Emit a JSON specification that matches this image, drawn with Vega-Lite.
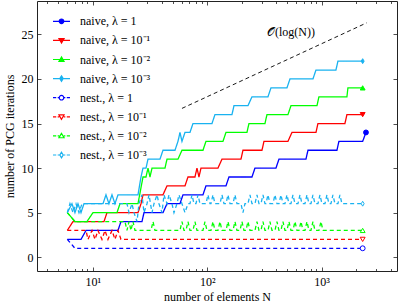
{
  "$schema": "https://vega.github.io/schema/vega-lite/v6.json",
  "width": 360,
  "height": 270,
  "autosize": {"type": "none"},
  "padding": {"left": 37, "top": 1, "right": 1, "bottom": 35},
  "background": "white",
  "config": {"view": {"stroke": "#222", "strokeWidth": 1}, "font": "Liberation Serif"},
  "datasets": {
    "lines": [
      {"s":"A1","n":6,"v":2},{"s":"A1","n":7.90,"v":2},{"s":"A1","n":8.74,"v":3},{"s":"A1","n":16.63,"v":3},{"s":"A1","n":17.66,"v":4},{"s":"A1","n":26.95,"v":4},{"s":"A1","n":28.06,"v":5},{"s":"A1","n":41.11,"v":5},{"s":"A1","n":44.56,"v":6},{"s":"A1","n":57.86,"v":6},{"s":"A1","n":61.46,"v":7},{"s":"A1","n":91.88,"v":7},{"s":"A1","n":97.59,"v":8},{"s":"A1","n":145.92,"v":8},{"s":"A1","n":154.99,"v":9},{"s":"A1","n":246.16,"v":9},{"s":"A1","n":261.46,"v":10},{"s":"A1","n":398.79,"v":10},{"s":"A1","n":423.58,"v":11},{"s":"A1","n":729.1,"v":11},{"s":"A1","n":759.0,"v":12},{"s":"A1","n":1359.4,"v":12},{"s":"A1","n":1415.1,"v":13},{"s":"A1","n":2281,"v":13},{"s":"A1","n":2438,"v":14},
      {"s":"A2","n":6,"v":3},{"s":"A2","n":6.73,"v":4},{"s":"A2","n":12.55,"v":4},{"s":"A2","n":13.33,"v":5},{"s":"A2","n":24.87,"v":5},{"s":"A2","n":26.42,"v":6},{"s":"A2","n":27.50,"v":7},{"s":"A2","n":41.11,"v":7},{"s":"A2","n":44.56,"v":8},{"s":"A2","n":63.98,"v":8},{"s":"A2","n":67.96,"v":9},{"s":"A2","n":78.22,"v":9},{"s":"A2","n":81.43,"v":10},{"s":"A2","n":84.77,"v":9},{"s":"A2","n":88.26,"v":10},{"s":"A2","n":124.22,"v":10},{"s":"A2","n":134.64,"v":11},{"s":"A2","n":197.26,"v":11},{"s":"A2","n":205.35,"v":12},{"s":"A2","n":300.97,"v":12},{"s":"A2","n":313.32,"v":13},{"s":"A2","n":507.58,"v":13},{"s":"A2","n":550.3,"v":14},{"s":"A2","n":891.4,"v":14},{"s":"A2","n":928.0,"v":15},{"s":"A2","n":1596.4,"v":15},{"s":"A2","n":1661.9,"v":16},{"s":"A2","n":2281,"v":16},
      {"s":"A3","n":6,"v":5},{"s":"A3","n":7.00,"v":4},{"s":"A3","n":8.91,"v":4},{"s":"A3","n":10.06,"v":5},{"s":"A3","n":16.30,"v":5},{"s":"A3","n":17.31,"v":6},{"s":"A3","n":24.87,"v":6},{"s":"A3","n":27.50,"v":9},{"s":"A3","n":29.21,"v":9},{"s":"A3","n":30.41,"v":10},{"s":"A3","n":31.66,"v":9},{"s":"A3","n":32.96,"v":10},{"s":"A3","n":42.80,"v":10},{"s":"A3","n":44.56,"v":11},{"s":"A3","n":55.58,"v":11},{"s":"A3","n":60.24,"v":12},{"s":"A3","n":91.88,"v":12},{"s":"A3","n":97.59,"v":13},{"s":"A3","n":137.38,"v":13},{"s":"A3","n":145.92,"v":14},{"s":"A3","n":222.55,"v":14},{"s":"A3","n":231.68,"v":15},{"s":"A3","n":319.68,"v":15},{"s":"A3","n":332.79,"v":16},{"s":"A3","n":507.58,"v":16},{"s":"A3","n":539.3,"v":17},{"s":"A3","n":909.5,"v":17},{"s":"A3","n":946.8,"v":18},{"s":"A3","n":1661.9,"v":18},{"s":"A3","n":1695.7,"v":19},{"s":"A3","n":2281,"v":19},
      {"s":"A4","n":6,"v":5},{"s":"A4","n":6.59,"v":6},{"s":"A4","n":7.00,"v":5},{"s":"A4","n":7.44,"v":6},{"s":"A4","n":7.90,"v":5},{"s":"A4","n":8.39,"v":6},{"s":"A4","n":12.30,"v":6},{"s":"A4","n":13.06,"v":7},{"s":"A4","n":13.87,"v":6},{"s":"A4","n":14.74,"v":7},{"s":"A4","n":15.65,"v":6},{"s":"A4","n":16.63,"v":7},{"s":"A4","n":24.87,"v":7},{"s":"A4","n":26.42,"v":9},{"s":"A4","n":27.50,"v":10},{"s":"A4","n":29.21,"v":10},{"s":"A4","n":30.41,"v":11},{"s":"A4","n":38.71,"v":11},{"s":"A4","n":41.11,"v":12},{"s":"A4","n":52.33,"v":12},{"s":"A4","n":55.58,"v":13},{"s":"A4","n":57.86,"v":14},{"s":"A4","n":60.24,"v":13},{"s":"A4","n":63.98,"v":14},{"s":"A4","n":70.75,"v":14},{"s":"A4","n":75.14,"v":15},{"s":"A4","n":110.10,"v":15},{"s":"A4","n":116.95,"v":16},{"s":"A4","n":164.62,"v":16},{"s":"A4","n":171.37,"v":17},{"s":"A4","n":227.07,"v":17},{"s":"A4","n":246.16,"v":18},{"s":"A4","n":339.55,"v":18},{"s":"A4","n":360.66,"v":19},{"s":"A4","n":497.48,"v":19},{"s":"A4","n":528.6,"v":20},{"s":"A4","n":839.3,"v":20},{"s":"A4","n":891.4,"v":21},{"s":"A4","n":1332.3,"v":21},{"s":"A4","n":1387.0,"v":22},{"s":"A4","n":2281,"v":22},
      {"s":"B1","n":6,"v":2},{"s":"B1","n":7.00,"v":1},{"s":"B1","n":2281,"v":1},
      {"s":"B2","n":6,"v":3},{"s":"B2","n":8.74,"v":3},{"s":"B2","n":9.10,"v":2},{"s":"B2","n":9.86,"v":3},{"s":"B2","n":10.47,"v":2},{"s":"B2","n":11.12,"v":3},{"s":"B2","n":12.05,"v":2},{"s":"B2","n":12.80,"v":3},{"s":"B2","n":13.60,"v":2},{"s":"B2","n":14.74,"v":3},{"s":"B2","n":15.65,"v":2},{"s":"B2","n":16.63,"v":3},{"s":"B2","n":17.66,"v":2},{"s":"B2","n":2281,"v":2},
      {"s":"B3","n":6,"v":5},{"s":"B3","n":7.00,"v":4},{"s":"B3","n":19.14,"v":4},{"s":"B3","n":19.93,"v":3},{"s":"B3","n":20.75,"v":4},{"s":"B3","n":21.60,"v":3},{"s":"B3","n":22.49,"v":4},{"s":"B3","n":23.41,"v":3},
      {"s":"B3","n":32.30,"v":3},{"s":"B3","n":33.63,"v":4},{"s":"B3","n":35.01,"v":3},
      {"s":"B3","n":57.86,"v":3},{"s":"B3","n":60.24,"v":4},{"s":"B3","n":62.71,"v":3},
      {"s":"B3","n":65.28,"v":3},{"s":"B3","n":67.96,"v":4},{"s":"B3","n":70.75,"v":3},
      {"s":"B3","n":75.14,"v":3},{"s":"B3","n":78.22,"v":4},{"s":"B3","n":81.43,"v":3},
      {"s":"B3","n":91.88,"v":3},{"s":"B3","n":95.65,"v":4},{"s":"B3","n":99.57,"v":3},
      {"s":"B3","n":107.91,"v":3},{"s":"B3","n":112.34,"v":4},{"s":"B3","n":116.95,"v":3},
      {"s":"B3","n":124.22,"v":3},{"s":"B3","n":129.31,"v":4},{"s":"B3","n":134.64,"v":3},
      {"s":"B3","n":145.92,"v":3},{"s":"B3","n":151.90,"v":4},{"s":"B3","n":158.13,"v":3},
      {"s":"B3","n":167.96,"v":3},{"s":"B3","n":174.85,"v":4},{"s":"B3","n":182.02,"v":3},
      {"s":"B3","n":193.34,"v":3},{"s":"B3","n":201.27,"v":4},{"s":"B3","n":209.52,"v":3},
      {"s":"B3","n":218.12,"v":3},{"s":"B3","n":227.07,"v":4},{"s":"B3","n":236.46,"v":3},
      {"s":"B3","n":261.46,"v":3},{"s":"B3","n":272.19,"v":4},{"s":"B3","n":283.36,"v":3},
      {"s":"B3","n":294.98,"v":3},{"s":"B3","n":307.08,"v":4},{"s":"B3","n":319.68,"v":3},
      {"s":"B3","n":339.55,"v":3},{"s":"B3","n":353.48,"v":4},{"s":"B3","n":367.98,"v":3},
      {"s":"B3","n":390.85,"v":3},{"s":"B3","n":406.89,"v":4},{"s":"B3","n":423.58,"v":3},
      {"s":"B3","n":440.96,"v":3},{"s":"B3","n":459.05,"v":4},{"s":"B3","n":477.88,"v":3},
      {"s":"B3","n":497.48,"v":3},{"s":"B3","n":517.89,"v":4},{"s":"B3","n":539.3,"v":3},
      {"s":"B3","n":561.5,"v":3},{"s":"B3","n":584.5,"v":4},{"s":"B3","n":608.5,"v":3},
      {"s":"B3","n":633.4,"v":3},{"s":"B3","n":659.4,"v":4},{"s":"B3","n":686.5,"v":3},
      {"s":"B3","n":714.6,"v":3},{"s":"B3","n":743.9,"v":4},{"s":"B3","n":774.4,"v":3},
      {"s":"B3","n":806.2,"v":3},{"s":"B3","n":839.3,"v":4},{"s":"B3","n":873.7,"v":3},
      {"s":"B3","n":946.8,"v":3},{"s":"B3","n":985.6,"v":4},{"s":"B3","n":1026.0,"v":3},
      {"s":"B3","n":2281,"v":3},
      {"s":"B4","n":6,"v":5},{"s":"B4","n":6.33,"v":6},{"s":"B4","n":6.73,"v":5},{"s":"B4","n":7.15,"v":6},{"s":"B4","n":7.59,"v":5},{"s":"B4","n":8.06,"v":6},{"s":"B4","n":19.93,"v":6},{"s":"B4","n":20.75,"v":5},{"s":"B4","n":22.04,"v":6},{"s":"B4","n":22.94,"v":5},{"s":"B4","n":24.37,"v":4},{"s":"B4","n":25.37,"v":6},{"s":"B4","n":26.95,"v":7},{"s":"B4","n":28.06,"v":5},{"s":"B4","n":29.80,"v":6},{"s":"B4","n":31.03,"v":7},{"s":"B4","n":32.96,"v":5},{"s":"B4","n":34.31,"v":6},{"s":"B4","n":36.45,"v":7},{"s":"B4","n":37.94,"v":6},{"s":"B4","n":40.29,"v":5},{"s":"B4","n":41.95,"v":7},{"s":"B4","n":44.56,"v":6},{"s":"B4","n":46.38,"v":7},{"s":"B4","n":49.26,"v":6},{"s":"B4","n":51.28,"v":5},{"s":"B4","n":54.47,"v":6},{"s":"B4","n":56.71,"v":7},{"s":"B4","n":60.24,"v":6},{"s":"B4","n":63.98,"v":5},{"s":"B4","n":67.96,"v":6},
      {"s":"B4","n":70.75,"v":6},{"s":"B4","n":73.65,"v":7},{"s":"B4","n":76.67,"v":6},
      {"s":"B4","n":79.81,"v":6},{"s":"B4","n":83.08,"v":7},{"s":"B4","n":86.49,"v":6},
      {"s":"B4","n":97.59,"v":6},{"s":"B4","n":101.59,"v":7},{"s":"B4","n":105.76,"v":6},
      {"s":"B4","n":107.91,"v":6},{"s":"B4","n":112.34,"v":7},{"s":"B4","n":116.95,"v":6},
      {"s":"B4","n":129.31,"v":6},{"s":"B4","n":134.64,"v":7},{"s":"B4","n":140.17,"v":6},
      {"s":"B4","n":145.92,"v":6},{"s":"B4","n":151.90,"v":7},{"s":"B4","n":158.13,"v":6},
      {"s":"B4","n":167.96,"v":6},{"s":"B4","n":174.85,"v":7},{"s":"B4","n":182.02,"v":6},
      {"s":"B4","n":197.26,"v":6},{"s":"B4","n":205.35,"v":5},{"s":"B4","n":213.78,"v":6},
      {"s":"B4","n":227.07,"v":6},{"s":"B4","n":236.46,"v":7},{"s":"B4","n":246.16,"v":6},
      {"s":"B4","n":261.46,"v":6},{"s":"B4","n":272.19,"v":7},{"s":"B4","n":283.36,"v":6},
      {"s":"B4","n":294.98,"v":6},{"s":"B4","n":307.08,"v":7},{"s":"B4","n":319.68,"v":6},
      {"s":"B4","n":326.17,"v":6},{"s":"B4","n":339.55,"v":7},{"s":"B4","n":353.48,"v":6},
      {"s":"B4","n":375.45,"v":6},{"s":"B4","n":390.85,"v":7},{"s":"B4","n":406.89,"v":6},
      {"s":"B4","n":423.58,"v":6},{"s":"B4","n":440.96,"v":7},{"s":"B4","n":459.05,"v":6},
      {"s":"B4","n":477.88,"v":6},{"s":"B4","n":497.48,"v":7},{"s":"B4","n":517.89,"v":6},
      {"s":"B4","n":539.3,"v":6},{"s":"B4","n":561.5,"v":7},{"s":"B4","n":584.5,"v":6},
      {"s":"B4","n":620.8,"v":6},{"s":"B4","n":646.3,"v":7},{"s":"B4","n":672.8,"v":6},
      {"s":"B4","n":714.6,"v":6},{"s":"B4","n":743.9,"v":7},{"s":"B4","n":774.4,"v":6},
      {"s":"B4","n":806.2,"v":6},{"s":"B4","n":839.3,"v":7},{"s":"B4","n":873.7,"v":6},
      {"s":"B4","n":928.0,"v":6},{"s":"B4","n":966.0,"v":7},{"s":"B4","n":1005.6,"v":6},
      {"s":"B4","n":1068.1,"v":6},{"s":"B4","n":1111.9,"v":7},{"s":"B4","n":1157.5,"v":6},
      {"s":"B4","n":1205.0,"v":6},{"s":"B4","n":1254.4,"v":7},{"s":"B4","n":1305.8,"v":6},
      {"s":"B4","n":1387.0,"v":6},{"s":"B4","n":1443.8,"v":7},{"s":"B4","n":1503.0,"v":6},
      {"s":"B4","n":2281,"v":6}
    ],
    "ends": [
      {"s":"A1","n":2438,"v":14},{"s":"A2","n":2281,"v":16},{"s":"A3","n":2281,"v":19},{"s":"A4","n":2281,"v":22},
      {"s":"B1","n":2281,"v":1},{"s":"B2","n":2281,"v":2},{"s":"B3","n":2281,"v":3},{"s":"B4","n":2281,"v":6}
    ],
    "trend": [{"n":60.24,"v":16.7},{"n":2473,"v":26.3}],
    "note": [{"n":539.3,"v":25.26,"t":"𝒪(log(N))"}]
  },
  "resolve": {
    "scale": {"shape": "independent", "fill": "independent", "stroke": "independent"},
    "axis": {"x": "independent", "y": "independent"}
  },
  "layer": [
    {
      "data": {"name": "lines"},
      "mark": {"type": "line", "strokeWidth": 1.3, "clip": true},
      "encoding": {
        "x": {
          "field": "n", "type": "quantitative",
          "scale": {"type": "log", "domain": [3.262, 4550]},
          "axis": {
            "orient": "bottom",
            "values": [4,5,6,7,8,9,10,20,30,40,50,60,70,80,90,100,200,300,400,500,600,700,800,900,1000,2000,3000,4000],
            "labelExpr": "datum.value == 10 ? '10¹' : datum.value == 100 ? '10²' : datum.value == 1000 ? '10³' : ''",
            "tickSize": {"condition": {"test": "datum.value == 10 || datum.value == 100 || datum.value == 1000", "value": -4}, "value": -2.5},
            "tickColor": "#222", "tickWidth": 0.8,
            "domain": false, "grid": false,
            "labelOverlap": false, "labelFlush": false,
            "labelFont": "Liberation Serif", "labelFontSize": 12, "labelColor": "#000",
            "labelBaseline": "top", "labelPadding": 9,
            "title": "number of elements N",
            "titleFont": "Liberation Serif", "titleFontSize": 12, "titleFontWeight": "normal", "titleColor": "#000", "titlePadding": 3
          }
        },
        "y": {
          "field": "v", "type": "quantitative",
          "scale": {"domain": [-1.55, 28.75], "nice": false, "zero": false},
          "axis": {
            "orient": "left",
            "values": [0,5,10,15,20,25],
            "tickSize": -4, "tickColor": "#222", "tickWidth": 0.8,
            "domain": false, "grid": false,
            "labelFont": "Liberation Serif", "labelFontSize": 12, "labelColor": "#000", "labelPadding": 8,
            "title": "number of PCG iterations",
            "titleFont": "Liberation Serif", "titleFontSize": 12, "titleFontWeight": "normal", "titleColor": "#000", "titlePadding": 5
          }
        },
        "color": {
          "field": "s", "type": "nominal",
          "scale": {"domain": ["A1","A2","A3","A4","B1","B2","B3","B4"], "range": ["#0000ff","#ff0000","#00ff00","#19b2f0","#0000ff","#ff0000","#00ff00","#19b2f0"]},
          "legend": null
        },
        "strokeDash": {
          "field": "s", "type": "nominal",
          "scale": {"domain": ["A1","A2","A3","A4","B1","B2","B3","B4"], "range": [[1,0],[1,0],[1,0],[1,0],[4,3],[4,3],[4,3],[4,3]]},
          "legend": null
        }
      }
    },
    {
      "data": {"name": "ends"},
      "mark": {"type": "point", "filled": true, "size": 24, "strokeWidth": 1, "opacity": 1},
      "encoding": {
        "x": {"field": "n", "type": "quantitative", "scale": {"type": "log", "domain": [3.262, 4550]}, "axis": null},
        "y": {"field": "v", "type": "quantitative", "scale": {"domain": [-1.55, 28.75], "nice": false, "zero": false}, "axis": null},
        "shape": {
          "field": "s", "type": "nominal",
          "scale": {"domain": ["A1","A2","A3","A4","B1","B2","B3","B4"], "range": ["circle","triangle-down","triangle-up","M0,-1L0.6,0L0,1L-0.6,0Z","circle","triangle-down","triangle-up","M0,-1L0.6,0L0,1L-0.6,0Z"]},
          "legend": null
        },
        "stroke": {
          "field": "s", "type": "nominal",
          "scale": {"domain": ["A1","A2","A3","A4","B1","B2","B3","B4"], "range": ["#0000ff","#ff0000","#00ff00","#19b2f0","#0000ff","#ff0000","#00ff00","#19b2f0"]},
          "legend": null
        },
        "fill": {
          "field": "s", "type": "nominal",
          "scale": {"domain": ["A1","A2","A3","A4","B1","B2","B3","B4"], "range": ["#0000ff","#ff0000","#00ff00","#19b2f0","#ffffff","#ffffff","#ffffff","#ffffff"]},
          "legend": null
        }
      }
    },
    {
      "data": {"name": "trend"},
      "mark": {"type": "line", "color": "#000", "strokeWidth": 0.9, "strokeDash": [4, 3]},
      "encoding": {
        "x": {
          "field": "n", "type": "quantitative",
          "scale": {"type": "log", "domain": [3.262, 4550]},
          "axis": {
            "orient": "top",
            "values": [4,5,6,7,8,9,10,20,30,40,50,60,70,80,90,100,200,300,400,500,600,700,800,900,1000,2000,3000,4000],
            "labels": false, "domain": false, "grid": false, "title": null,
            "tickSize": {"condition": {"test": "datum.value == 10 || datum.value == 100 || datum.value == 1000", "value": -4}, "value": -2.5},
            "tickColor": "#222", "tickWidth": 0.8
          }
        },
        "y": {
          "field": "v", "type": "quantitative",
          "scale": {"domain": [-1.55, 28.75], "nice": false, "zero": false},
          "axis": {
            "orient": "right",
            "values": [0,5,10,15,20,25],
            "labels": false, "domain": false, "grid": false, "title": null,
            "tickSize": -4, "tickColor": "#222", "tickWidth": 0.8
          }
        }
      }
    },
    {
      "data": {"name": "note"},
      "mark": {"type": "text", "font": "Liberation Serif", "fontSize": 12, "color": "#000"},
      "encoding": {
        "x": {"field": "n", "type": "quantitative", "scale": {"type": "log", "domain": [3.262, 4550]}, "axis": null},
        "y": {"field": "v", "type": "quantitative", "scale": {"domain": [-1.55, 28.75], "nice": false, "zero": false}, "axis": null},
        "text": {"field": "t", "type": "nominal"}
      }
    },
    {
      "data": {"values": []},
      "mark": {"type": "point", "filled": true, "strokeWidth": 1.2, "opacity": 1},
      "encoding": {
        "shape": {
          "field": "s", "type": "nominal",
          "scale": {"domain": ["A1","A2","A3","A4","B1","B2","B3","B4"], "range": [
            "M-1,0H1M0.27,0A0.27,0.27 0 1,1 -0.27,0A0.27,0.27 0 1,1 0.27,0Z",
            "M-1,0H1M0,0.3L-0.3,-0.22L0.3,-0.22Z",
            "M-1,0H1M0,-0.3L-0.3,0.22L0.3,0.22Z",
            "M-1,0H1M0,-0.33L0.2,0L0,0.33L-0.2,0Z",
            "M-1,0H-0.62M-0.45,0H-0.27M0.27,0H0.45M0.62,0H1M0.27,0A0.27,0.27 0 1,1 -0.27,0A0.27,0.27 0 1,1 0.27,0Z",
            "M-1,0H-0.62M-0.45,0H-0.27M0.27,0H0.45M0.62,0H1M0,0.3L-0.3,-0.22L0.3,-0.22Z",
            "M-1,0H-0.62M-0.45,0H-0.27M0.27,0H0.45M0.62,0H1M0,-0.3L-0.3,0.22L0.3,0.22Z",
            "M-1,0H-0.62M-0.45,0H-0.27M0.27,0H0.45M0.62,0H1M0,-0.33L0.2,0L0,0.33L-0.2,0Z"
          ]},
          "legend": {"title": null, "orient": "none", "legendX": 15, "legendY": 10.8, "symbolSize": 289, "symbolStrokeWidth": 1.2, "labelFont": "Liberation Serif", "labelFontSize": 12, "labelColor": "#000", "labelOffset": 9, "rowPadding": 3.1, "padding": 0,
            "labelExpr": "{'A1':'naive, λ = 1','A2':'naive, λ = 10⁻¹','A3':'naive, λ = 10⁻²','A4':'naive, λ = 10⁻³','B1':'nest., λ = 1','B2':'nest., λ = 10⁻¹','B3':'nest., λ = 10⁻²','B4':'nest., λ = 10⁻³'}[datum.label]"}
        },
        "stroke": {
          "field": "s", "type": "nominal",
          "scale": {"domain": ["A1","A2","A3","A4","B1","B2","B3","B4"], "range": ["#0000ff","#ff0000","#00ff00","#19b2f0","#0000ff","#ff0000","#00ff00","#19b2f0"]},
          "legend": {"title": null, "orient": "none", "legendX": 15, "legendY": 10.8, "symbolSize": 289, "symbolStrokeWidth": 1.2, "labelFont": "Liberation Serif", "labelFontSize": 12, "labelColor": "#000", "labelOffset": 9, "rowPadding": 3.1, "padding": 0,
            "labelExpr": "{'A1':'naive, λ = 1','A2':'naive, λ = 10⁻¹','A3':'naive, λ = 10⁻²','A4':'naive, λ = 10⁻³','B1':'nest., λ = 1','B2':'nest., λ = 10⁻¹','B3':'nest., λ = 10⁻²','B4':'nest., λ = 10⁻³'}[datum.label]"}
        },
        "fill": {
          "field": "s", "type": "nominal",
          "scale": {"domain": ["A1","A2","A3","A4","B1","B2","B3","B4"], "range": ["#0000ff","#ff0000","#00ff00","#19b2f0","#ffffff","#ffffff","#ffffff","#ffffff"]},
          "legend": {"title": null, "orient": "none", "legendX": 15, "legendY": 10.8, "symbolSize": 289, "symbolStrokeWidth": 1.2, "labelFont": "Liberation Serif", "labelFontSize": 12, "labelColor": "#000", "labelOffset": 9, "rowPadding": 3.1, "padding": 0,
            "labelExpr": "{'A1':'naive, λ = 1','A2':'naive, λ = 10⁻¹','A3':'naive, λ = 10⁻²','A4':'naive, λ = 10⁻³','B1':'nest., λ = 1','B2':'nest., λ = 10⁻¹','B3':'nest., λ = 10⁻²','B4':'nest., λ = 10⁻³'}[datum.label]"}
        }
      }
    }
  ]
}
